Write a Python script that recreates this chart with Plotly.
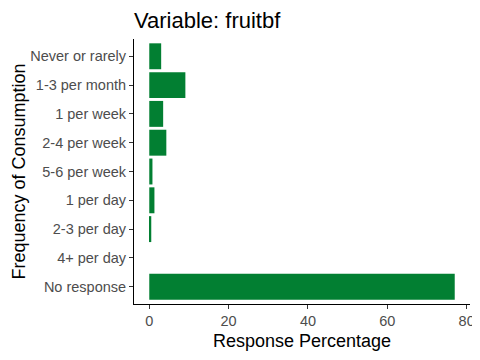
import plotly.graph_objects as go

categories = ["Never or rarely", "1-3 per month", "1 per week", "2-4 per week",
              "5-6 per week", "1 per day", "2-3 per day", "4+ per day", "No response"]
percentages = [3.0, 9.1, 3.5, 4.3, 0.8, 1.3, 0.5, 0.0, 77.0]
x_ticks = [0, 20, 40, 60, 80]

# page has 8px default body margin; figure is sized to fill the rest
OFF = 8
W, H = 480 - OFF, 360 - OFF
L, R, T, B = 134 - OFF, 10, 39 - OFF, 56
PW, PH = W - L - R, H - T - B

fig = go.Figure(go.Bar(
    x=percentages, y=categories, orientation="h",
    marker=dict(color="#027F32", line=dict(width=0)),
    width=0.9,
))

fig.update_layout(
    width=W, height=H,
    margin=dict(l=L, r=R, t=T, b=B, autoexpand=False),
    paper_bgcolor="white", plot_bgcolor="white",
    font=dict(family="Liberation Sans, Arial, sans-serif", color="black"),
    title=dict(text="Variable: fruitbf", x=L / W, xanchor="left",
               y=1 - (20.5 - OFF) / H, yanchor="middle",
               font=dict(size=22, color="black")),
    showlegend=False,
    annotations=[
        dict(text="Response Percentage", x=0.5, xref="paper",
             y=(H - B - (341 - OFF)) / PH, yref="paper",
             xanchor="center", yanchor="middle", showarrow=False,
             font=dict(size=18, color="black")),
        dict(text="Frequency of Consumption", x=((18 - OFF) - L) / PW, xref="paper",
             y=0.5, yref="paper",
             xanchor="center", yanchor="middle", showarrow=False, textangle=-90,
             font=dict(size=18, color="black")),
    ],
)

fig.update_xaxes(
    range=[-3.85, 80.85], tickvals=x_ticks,
    showgrid=False, zeroline=False, automargin=False,
    showline=True, linecolor="black", linewidth=1,
    ticks="outside", ticklen=4, tickcolor="#333333", tickwidth=1,
    tickfont=dict(size=14.5, color="#4D4D4D"),
)
fig.update_yaxes(
    categoryorder="array", categoryarray=categories,
    range=[8.6, -0.6], automargin=False,
    showgrid=False, zeroline=False,
    showline=True, linecolor="black", linewidth=1,
    ticks="outside", ticklen=4, tickcolor="#333333", tickwidth=1,
    tickfont=dict(size=14.5, color="#4D4D4D"),
)

fig.write_html("out.html")
